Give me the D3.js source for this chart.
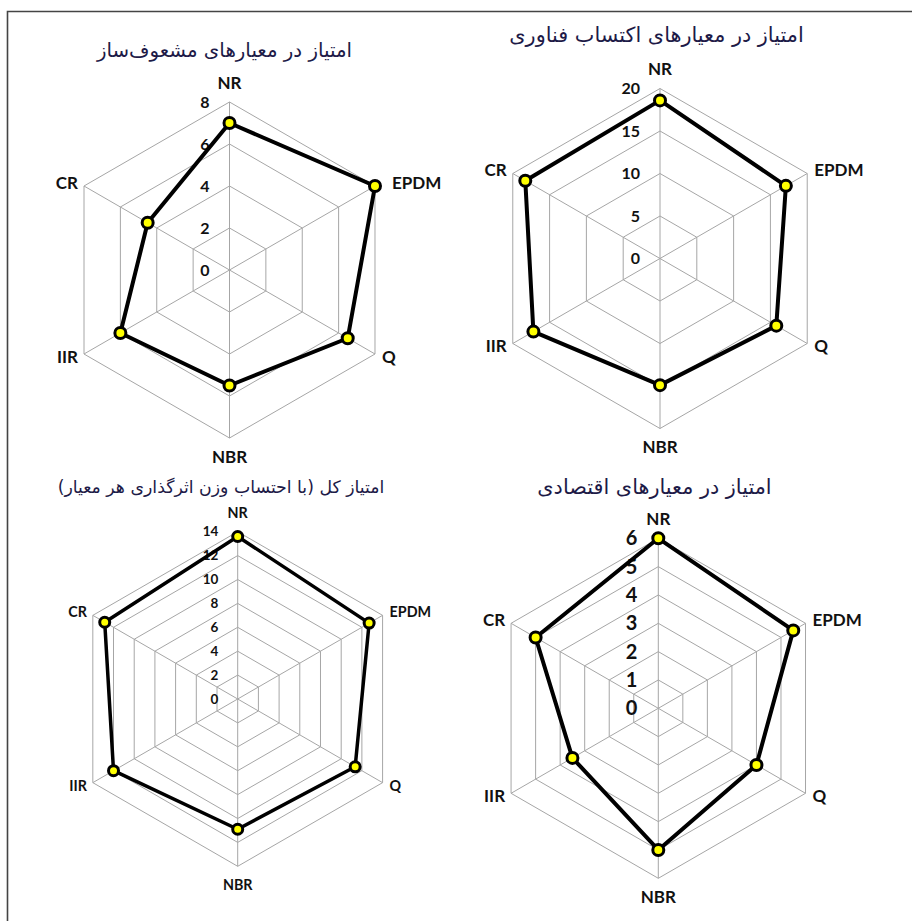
<!DOCTYPE html>
<html lang="fa">
<head>
    <meta charset="UTF-8">
    <title>Radar charts</title>
    <style>
        body { margin: 0; background: #fff; }
        .grid { fill: none; stroke: #a6a6a6; stroke-width: 1px; }
        .spoke { stroke: #a6a6a6; stroke-width: 1px; }
        .title { font-family: "DejaVu Sans", sans-serif; fill: #1d1a47; }
        .axis-label, .tick { font-family: Lato, "Open Sans", sans-serif; font-weight: bold; fill: #111; }
        .series { fill: none; stroke: #000; stroke-linejoin: round; }
        .dot { fill: #ffff00; stroke: #000; }
    </style>
</head>
<body>
    <div id="chart"></div>
    <script src="https://cdn.jsdelivr.net/npm/d3@7"></script>
    <script>
        const axisNames = ["NR", "EPDM", "Q", "NBR", "IIR", "CR"];

        const titleBlend = "امتیاز در معیارهای مشعوف‌ساز";
        const valuesBlend = [7, 8, 6.5, 5.5, 6, 4.5];
        const ticksBlend = [0, 2, 4, 6, 8];

        const titleTech = "امتیاز در معیارهای اکتساب فناوری";
        const valuesTech = [18.6, 17.1, 15.8, 14.9, 17.2, 18.3];
        const ticksTech = [0, 5, 10, 15, 20];

        const titleTotal = "امتیاز کل (با احتساب وزن اثرگذاری هر معیار)";
        const valuesTotal = [13.6, 12.7, 11.35, 10.9, 12, 12.85];
        const ticksTotal = [0, 2, 4, 6, 8, 10, 12, 14];

        const titleEcon = "امتیاز در معیارهای اقتصادی";
        const valuesEcon = [6, 5.5, 4, 5, 3.5, 5];
        const ticksEcon = [0, 1, 2, 3, 4, 5, 6];

        const width = 912, height = 921;

        const svg = d3.select("#chart").append("svg")
            .attr("width", width)
            .attr("height", height);

        // frame (only top and left edges are inside the picture)
        svg.append("path")
            .attr("d", "M7.5,921V11.5H912")
            .attr("fill", "none")
            .attr("stroke", "#444")
            .attr("stroke-width", 1.6);

        const charts = [
            { title: titleBlend, values: valuesBlend, ticks: ticksBlend, cx: 229.5, cy: 270, r: 168,
              titleX: 224.5, titleY: 50, titleSize: 19.8, tickSize: 16, labelSize: 17, line: 4, dotR: 5.5 },
            { title: titleTech, values: valuesTech, ticks: ticksTech, cx: 660, cy: 258.5, r: 170,
              titleX: 656.5, titleY: 35, titleSize: 20.8, tickSize: 16, labelSize: 17, line: 4, dotR: 5.5 },
            { title: titleTotal, values: valuesTotal, ticks: ticksTotal, cx: 237.7, cy: 699, r: 167.3,
              titleX: 221, titleY: 487, titleSize: 17.3, tickSize: 13.5, labelSize: 14.3, line: 3.5, dotR: 5 },
            { title: titleEcon, values: valuesEcon, ticks: ticksEcon, cx: 658.3, cy: 708.3, r: 170,
              titleX: 654.5, titleY: 487, titleSize: 20.8, tickSize: 20, labelSize: 17, line: 4, dotR: 5.5 }
        ];

        const angle = i => i * Math.PI / 3;

        charts.forEach(c => drawRadar(c));

        function drawRadar(c) {
            const max = d3.max(c.ticks);
            const rScale = d3.scaleLinear().domain([0, max]).range([0, c.r]);
            const g = svg.append("g").attr("transform", `translate(${c.cx},${c.cy})`);

            const ring = d3.lineRadial()
                .angle((d, i) => angle(i))
                .radius(d => rScale(d))
                .curve(d3.curveLinearClosed);

            // grid rings
            g.selectAll(".grid")
                .data(c.ticks.filter(t => t > 0))
                .enter().append("path")
                .attr("class", "grid")
                .attr("d", t => ring(axisNames.map(() => t)));

            // spokes
            g.selectAll(".spoke")
                .data(axisNames)
                .enter().append("line")
                .attr("class", "spoke")
                .attr("x1", 0).attr("y1", 0)
                .attr("x2", (d, i) => rScale(max) * Math.sin(angle(i)))
                .attr("y2", (d, i) => -rScale(max) * Math.cos(angle(i)));

            // tick labels
            g.selectAll(".tick")
                .data(c.ticks)
                .enter().append("text")
                .attr("class", "tick")
                .attr("x", -c.tickSize * 0.25 - 16)
                .attr("y", t => -rScale(t))
                .attr("dy", "0.35em")
                .attr("text-anchor", "end")
                .style("font-size", c.tickSize + "px")
                .text(t => t);

            // axis labels, pushed a bit further out when a marker sits on the outer ring
            g.selectAll(".axis-label")
                .data(axisNames)
                .enter().append("text")
                .attr("class", "axis-label")
                .style("font-size", c.labelSize + "px")
                .attr("x", (d, i) => {
                    const s = Math.sin(angle(i));
                    const x = rScale(max) * s;
                    if (Math.abs(s) < 0.01) return x;
                    const extra = c.values[i] >= max * 0.97 ? 10 : 0;
                    return s > 0 ? x + 7 + extra : x - 6 - extra;
                })
                .attr("y", (d, i) => {
                    const co = Math.cos(angle(i));
                    const y = -rScale(max) * co;
                    if (Math.abs(co) > 0.99) return co > 0 ? y - 19 : y + 19;
                    return co > 0 ? y - 3 : y + 3;
                })
                .attr("dy", "0.35em")
                .attr("text-anchor", (d, i) => {
                    const s = Math.sin(angle(i));
                    if (Math.abs(s) < 0.01) return "middle";
                    return s > 0 ? "start" : "end";
                })
                .text(d => d);

            // series
            g.append("path")
                .attr("class", "series")
                .attr("stroke-width", c.line)
                .attr("d", ring(c.values));

            g.selectAll(".dot")
                .data(c.values)
                .enter().append("circle")
                .attr("class", "dot")
                .attr("r", c.dotR)
                .attr("stroke-width", 3)
                .attr("cx", (d, i) => rScale(d) * Math.sin(angle(i)))
                .attr("cy", (d, i) => -rScale(d) * Math.cos(angle(i)));

            // title
            svg.append("text")
                .attr("class", "title")
                .attr("x", c.titleX)
                .attr("y", c.titleY)
                .attr("dy", "0.35em")
                .attr("text-anchor", "middle")
                .attr("direction", "rtl")
                .style("font-size", c.titleSize + "px")
                .text(c.title);
        }
    </script>
</body>
</html>
